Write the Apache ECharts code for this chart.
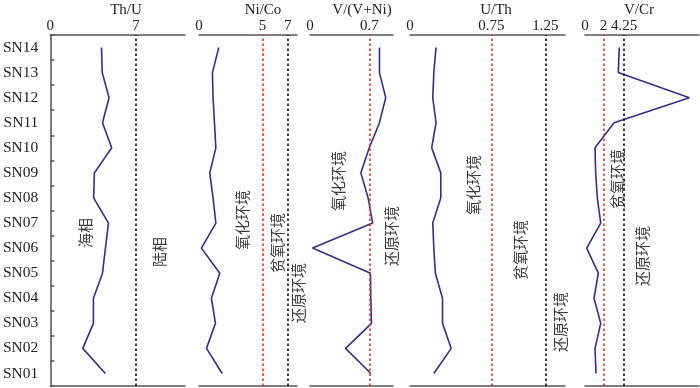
<!DOCTYPE html>
<html>
<head>
<meta charset="utf-8">
<script src="https://cdn.jsdelivr.net/npm/echarts@6/dist/echarts.min.js"></script>
<style>
  html, body { margin: 0; padding: 0; background: #fff; }
  #chart { width: 700px; height: 388px; }
</style>
</head>
<body>
<div id="chart"></div>
<script>
// samples, bottom to top
const samples = ['SN01', 'SN02', 'SN03', 'SN04', 'SN05', 'SN06', 'SN07',
  'SN08', 'SN09', 'SN10', 'SN11', 'SN12', 'SN13', 'SN14'];

const thU = [4.5, 2.65, 3.52, 3.52, 4.26, 4.5, 4.75, 3.54, 3.6, 5.01, 4.26, 4.8, 4.24, 4.18];
const niCo = [1.83, 0.59, 1.3, 0.98, 1.64, 0.19, 1.33, 1.11, 0.85, 1.33, 1.22, 1.11, 1.06, 1.56];
const vVNi = [0.718, 0.42, 0.726, 0.718, 0.714, 0.03, 0.74, 0.686, 0.6, 0.7, 0.82, 0.894, 0.82, 0.82];
const uTh = [0.22, 0.38, 0.3, 0.3, 0.234, 0.22, 0.21, 0.284, 0.284, 0.2, 0.24, 0.21, 0.22, 0.24];
const vCr = [1.2, 1.09, 1.71, 0.98, 1.45, 0.18, 1.71, 1.34, 1.16, 1.09, 3.16, 11.35, 3.62, 3.73];

const titles = ['Th/U', 'Ni/Co', 'V/(V+Ni)', 'U/Th', 'V/Cr'];
const tickValues = [[0, 7], [0, 5, 7], [0, 0.7], [0, 0.75, 1.25], [0, 2, 4.25]];
// threshold lines: [value, colour]
const thresholds = [
  [[7, '#111']],
  [[5, '#e8321e'], [7, '#111']],
  [[0.7, '#e8321e']],
  [[0.75, '#e8321e'], [1.25, '#111']],
  [[2, '#e8321e'], [4.25, '#111']]
];
const axisMax = [11, 7.73, 0.98, 1.43, 12.4];
const seriesData = [thU, niCo, vVNi, uTh, vCr];

// layout of each panel (pixels)
const panelLeft = [48, 199, 310, 410, 585];
const panelRight = [185, 297, 393, 565, 699];
const titleX = [126, 263, 362, 496, 639];

// rotated zone labels: [text, x, y]
const zoneLabels = [
  ['海相', 85, 233], ['陆相', 159, 252],
  ['氧化环境', 242, 220], ['贫氧环境', 277, 243], ['还原环境', 298, 293],
  ['氧化环境', 338, 181], ['还原环境', 391, 236],
  ['氧化环境', 473, 185], ['贫氧环境', 520, 250], ['还原环境', 560, 322],
  ['贫氧环境', 617, 179], ['还原环境', 642, 256]
];

const serif = '"Liberation Serif", "DejaVu Serif", serif';
const axisColor = '#555';
const lineColor = '#3a2a8e';

let grids = [], xAxes = [], yAxes = [], series = [], graphics = [];

for (let i = 0; i < 5; i++) {
  grids.push({
    left: panelLeft[i],
    width: panelRight[i] - panelLeft[i],
    top: 35,
    height: 351
  });
  // top axis with labels
  xAxes.push({
    type: 'value',
    gridIndex: i,
    position: 'top',
    min: 0,
    max: axisMax[i],
    axisLine: { show: true, lineStyle: { color: axisColor, width: 1.5 } },
    axisTick: { show: false },
    splitLine: { show: false },
    axisLabel: {
      customValues: tickValues[i],
      fontFamily: serif,
      fontSize: 15,
      color: '#222',
      margin: 1
    }
  });
  // bottom line only
  xAxes.push({
    type: 'value',
    gridIndex: i,
    position: 'bottom',
    min: 0,
    max: axisMax[i],
    axisLine: { show: true, lineStyle: { color: axisColor, width: 1.5 } },
    axisTick: { show: false },
    splitLine: { show: false },
    axisLabel: { show: false }
  });
  yAxes.push({
    type: 'category',
    gridIndex: i,
    data: samples,
    show: i === 0,
    offset: 8,
    axisLine: { show: true, lineStyle: { color: axisColor, width: 1.5 } },
    axisTick: { show: true, inside: true, length: 4, lineStyle: { color: axisColor, width: 1.5 } },
    axisLabel: { fontFamily: serif, fontSize: 15.5, color: '#222', margin: 4 },
    splitLine: { show: false }
  });
  series.push({
    type: 'line',
    xAxisIndex: i * 2,
    yAxisIndex: i,
    data: seriesData[i],
    symbol: 'none',
    lineStyle: { color: lineColor, width: 1.6 },
    markLine: {
      silent: true,
      symbol: 'none',
      label: { show: false },
      data: thresholds[i].map(t => ({
        xAxis: t[0],
        lineStyle: { color: t[1], type: [2.5, 2.5], width: 1.6 }
      }))
    }
  });
  graphics.push({
    type: 'text',
    x: titleX[i],
    y: 10,
    style: {
      text: titles[i],
      font: '15px ' + serif,
      fill: '#222',
      textAlign: 'center',
      textVerticalAlign: 'middle'
    }
  });
}

zoneLabels.forEach(z => {
  graphics.push({
    type: 'text',
    x: z[1],
    y: z[2],
    rotation: Math.PI / 2,
    style: {
      text: z[0],
      font: '15px "Noto Sans CJK SC"',
      fill: '#3a3a3a',
      textAlign: 'center',
      textVerticalAlign: 'middle'
    }
  });
});

let myChart = echarts.init(document.getElementById('chart'));
myChart.setOption({
  animation: false,
  grid: grids,
  xAxis: xAxes,
  yAxis: yAxes,
  series: series,
  graphic: graphics
});
</script>
</body>
</html>
